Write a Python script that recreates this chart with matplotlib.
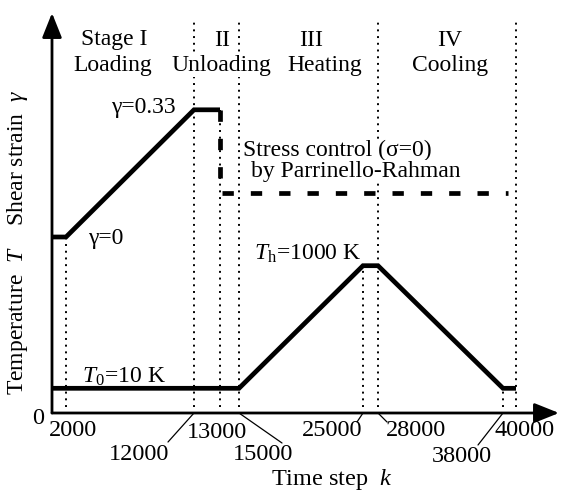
import numpy as np
import matplotlib
matplotlib.use("Agg")
import matplotlib.pyplot as plt

# ---------------- data ----------------
stage_steps = [2000, 12000, 13000, 15000, 25000, 28000, 38000, 40000]
tick_labels = ["2000", "12000", "13000", "15000", "25000", "28000", "38000", "40000"]

strain_steps = [0, 2000, 12000, 13000]
strain_vals = [0.0, 0.0, 0.33, 0.33]

relax_steps = [13000, 13000, 38700]
relax_vals = [0.33, 0.114, 0.114]

temp_steps = [0, 15000, 25000, 28000, 38000, 40000]
temp_vals = [10, 10, 1000, 1000, 10, 10]

stage_names = ["Stage I", "II", "III", "IV"]
stage_actions = ["Loading", "Unloading", "Heating", "Cooling"]

# ---------------- layout ----------------
W, H = 561, 493
DPI = 100
AX_X0, AX_X1 = 52, 559      # pixel columns of y-axis and x-arrow tip
AX_Y0, AX_Y1 = 413, 13      # pixel rows of x-axis and y-arrow tip
AX_W = AX_X1 - AX_X0
AX_H = AX_Y0 - AX_Y1

# schematic (non-linear) time axis: step -> pixel offset along axis
KNOT_STEPS = [0, 2000, 12000, 13000, 15000, 25000, 28000, 38000, 40000, 43300]
KNOT_PX = [0, 14, 142, 168, 187, 311, 326, 451, 464, 507]

def fwd(x):
    return np.interp(x, KNOT_STEPS, KNOT_PX)

def inv(p):
    return np.interp(p, KNOT_PX, KNOT_STEPS)

plt.rcParams['font.family'] = ['Liberation Serif', 'DejaVu Serif']
plt.rcParams['mathtext.fontset'] = 'custom'
plt.rcParams['mathtext.rm'] = 'Liberation Serif'
plt.rcParams['mathtext.it'] = 'Liberation Serif:italic'

fig = plt.figure(figsize=(W / DPI, H / DPI), dpi=DPI)
ax = fig.add_axes([AX_X0 / W, 1 - AX_Y0 / H, AX_W / W, AX_H / H])
ax.set_xscale('function', functions=(fwd, inv))
ax.set_xlim(KNOT_STEPS[0], KNOT_STEPS[-1])

# temperature scale: 10 K at 24.7 px, 1000 K at 147.3 px above the x axis
t_px = (24.7, 147.3)
k_t = (temp_vals[2] - temp_vals[0]) / (t_px[1] - t_px[0])
ax.set_ylim(temp_vals[0] - t_px[0] * k_t, temp_vals[0] + (AX_H - t_px[0]) * k_t)

ax2 = ax.twinx()
# strain scale: 0 at 176 px, 0.33 at 303.2 px above the x axis
s_px = (176.0, 303.2)
k_s = (strain_vals[2] - strain_vals[0]) / (s_px[1] - s_px[0])
ax2.set_ylim(-s_px[0] * k_s, (AX_H - s_px[0]) * k_s)

for a in (ax, ax2):
    for s in a.spines.values():
        s.set_visible(False)
    a.set_xticks([])
    a.set_yticks([])
    a.patch.set_visible(False)

# axes arrows
arrow_kw = dict(arrowstyle="-|>,head_length=0.75,head_width=0.3", color='black',
                lw=2.0, shrinkA=0, shrinkB=0, mutation_scale=20)
ax.annotate("", xy=(0, 1), xytext=(0, 0), xycoords='axes fraction',
            textcoords='axes fraction', arrowprops=arrow_kw)
ax.annotate("", xy=(1, 0), xytext=(0, 0), xycoords='axes fraction',
            textcoords='axes fraction', arrowprops=arrow_kw)

# dotted stage boundaries (tops in pixel rows)
dot_tops = [237, 22, 110, 22, 266, 22, 388, 22]
dot_bottom = 407
xtr = ax.get_xaxis_transform()
for st, top in zip(stage_steps, dot_tops):
    ax.plot([st, st], [(AX_Y0 - dot_bottom) / AX_H, (AX_Y0 - top) / AX_H],
            transform=xtr, color='black', lw=1.4, linestyle=(0, (1, 2.45)),
            zorder=1)

# curves
ax.plot(temp_steps, temp_vals, color='black', lw=3.4, solid_joinstyle='miter',
        solid_capstyle='butt', zorder=3)
ax2.plot(strain_steps, strain_vals, color='black', lw=3.4, solid_joinstyle='miter',
         solid_capstyle='butt', zorder=3)
ax2.plot(relax_steps, relax_vals, color='black', lw=3.4, linestyle=(0, (2.4, 3.6)),
         dash_capstyle='butt', zorder=3)

# texts live in ax (figure coords) so that a white box can mask dotted lines
def txt(x, y, s, fs, mask=False, **kw):
    bbox = dict(facecolor='white', edgecolor='none', pad=0.5) if mask else None
    return ax.text(x / W, 1 - y / H, s, transform=fig.transFigure, fontsize=fs,
                   clip_on=False, zorder=2, bbox=bbox, **kw)

FS = 17
FS_T = 17.5

# stage header
stage_pos = [(114, 113), (222, 221), (311, 325), (450, 450)]
for name, act, (xn, xa) in zip(stage_names, stage_actions, stage_pos):
    txt(xn, 40, name, FS, ha='center', va='center')
    txt(xa, 66, act, FS, mask=(act == "Unloading"), ha='center', va='center')

# annotations
txt(176, 108, "\u03b3=0.33", FS, ha='right', va='center')
txt(88, 239, "\u03b3=0", FS, ha='left', va='center')
txt(243, 150, "Stress control (\u03c3=0)", FS, mask=True, ha='left', va='center')
txt(251, 171, "by Parrinello-Rahman", FS, mask=True, ha='left', va='center')
txt(254, 254, r"$T$" + r"$_{\mathrm{h}}$" + "=1000 K", FS, ha='left', va='center')
txt(82, 377, r"$T$" + r"$_{\mathrm{0}}$" + "=10 K", FS, ha='left', va='center')

# y label
txt(18, 242, r"Temperature  $T$    Shear strain  $\gamma$", FS, rotation=90,
    ha='center', va='center')

# x labels
txt(38, 419, "0", FS_T, ha='center', va='center')
txt(332, 480, r"Time step  $k$", FS_T, ha='center', va='center')

# tick labels: (center x, center y) and optional leader end (x, y) pixels
tick_text_pos = [(73, 431), (139, 455), (217, 432), (263, 455),
                 (332, 431), (416, 431), (462, 457), (525, 431)]
leader_ends = [None, (168, 442), None, (282, 443), (357, 422), (387, 422), (478, 445), None]
for st, lab, (tx, ty), le in zip(stage_steps, tick_labels, tick_text_pos, leader_ends):
    txt(tx, ty, lab, FS_T, ha='center', va='center')
    if le is not None:
        ax.annotate("", xy=(st, 0), xycoords=xtr,
                    xytext=(le[0], H - le[1]), textcoords='figure pixels',
                    arrowprops=dict(arrowstyle='-', color='black', lw=0.9,
                                    shrinkA=0, shrinkB=0))

fig.savefig("out.png", dpi=DPI, facecolor='white')
